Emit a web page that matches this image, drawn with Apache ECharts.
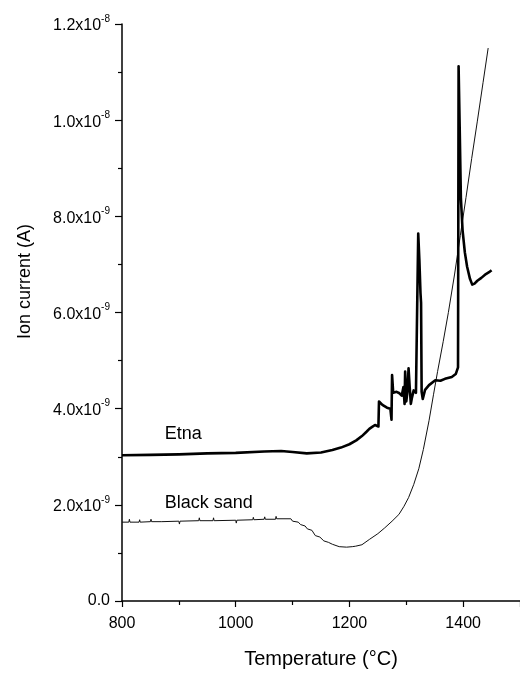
<!DOCTYPE html>
<html>
<head>
<meta charset="utf-8">
<script src="https://cdn.jsdelivr.net/npm/echarts@6/dist/echarts.min.js"></script>
<style>
  html, body { margin: 0; padding: 0; background: #fff; }
  #chart { width: 520px; height: 674px; }
</style>
</head>
<body>
<div id="chart"></div>
<script>
// Ion current vs temperature; currents stored in units of 1e-9 A.
const etnaTemp = [800, 850, 900, 950, 1000, 1050, 1080, 1100, 1125, 1150, 1170, 1185, 1200, 1212, 1222, 1230, 1235, 1240, 1245, 1251,
  1252, 1258, 1266, 1272, 1274, 1275, 1277, 1283, 1288, 1292, 1295, 1297, 1298, 1300, 1302, 1304, 1306, 1308, 1310, 1313, 1317, 1320,
  1321, 1323, 1325, 1326, 1327, 1329, 1333, 1340, 1351, 1360, 1368, 1380, 1387, 1391,
  1392, 1394, 1396, 1399, 1403, 1407, 1412, 1416, 1420, 1425, 1432, 1440, 1447, 1450];
const etnaCurrent = [3.03, 3.04, 3.05, 3.07, 3.08, 3.11, 3.12, 3.10, 3.07, 3.09, 3.14, 3.19, 3.26, 3.34, 3.43, 3.52, 3.58, 3.62, 3.66, 3.63,
  4.15, 4.08, 4.02, 4.00, 3.77, 4.70, 4.33, 4.35, 4.32, 4.27, 4.45, 4.10, 4.77, 4.15, 4.35, 4.84, 4.45, 4.10, 4.23, 4.38, 4.33, 4.35,
  7.64, 7.10, 6.40, 6.20, 4.35, 4.20, 4.39, 4.49, 4.59, 4.58, 4.62, 4.66, 4.72, 4.86,
  11.12, 9.80, 8.39, 7.71, 7.25, 6.95, 6.70, 6.58, 6.60, 6.66, 6.72, 6.80, 6.85, 6.88];

const sandTemp = [800, 812, 813, 814, 830, 831, 832, 850, 851, 852, 870, 900, 901, 902, 935, 936, 937, 960, 961, 962, 1000, 1001, 1002,
  1030, 1031, 1032, 1050, 1051, 1052, 1070, 1071, 1072, 1097,
  1100, 1110, 1114, 1122, 1126, 1134, 1140, 1148, 1155, 1163, 1170, 1182, 1195, 1205, 1211,
  1222, 1235, 1250, 1262, 1275, 1287, 1296, 1304, 1313, 1322, 1330, 1340, 1348, 1355, 1365, 1374, 1385, 1395, 1405, 1415, 1425, 1435, 1444];
const sandCurrent = [1.64, 1.64, 1.70, 1.64, 1.64, 1.69, 1.64, 1.65, 1.70, 1.65, 1.65, 1.66, 1.60, 1.66, 1.67, 1.73, 1.67, 1.67, 1.73, 1.67, 1.68, 1.62, 1.68,
  1.69, 1.74, 1.69, 1.70, 1.75, 1.70, 1.70, 1.76, 1.71, 1.71,
  1.66, 1.64, 1.59, 1.56, 1.50, 1.47, 1.36, 1.33, 1.25, 1.22, 1.18, 1.13, 1.12, 1.13, 1.14,
  1.17, 1.28, 1.40, 1.52, 1.66, 1.80, 1.97, 2.15, 2.42, 2.75, 3.15, 3.75, 4.30, 4.77, 5.40, 6.00, 6.80, 7.60, 8.39, 9.20, 9.98, 10.78, 11.50];

// Curve labels and where they sit
const labelText = ['Etna', 'Black sand'];
const labelTemp = [875, 875];
const labelCurrent = [3.47, 2.03];

const xTitle = 'Temperature (°C)';
const yTitle = 'Ion current (A)';

const zip = (xs, ys) => xs.map((x, i) => [x, ys[i]]);

function yTickLabel(v) {
  if (v === 0) return '0.0';
  const exp = v >= 10 ? -8 : -9;
  const mant = v >= 10 ? v / 10 : v;
  return '{m|' + mant.toFixed(1) + 'x10}{e|' + exp + '}';
}

const font = 'Liberation Sans, Arial, sans-serif';
const chart = echarts.init(document.getElementById('chart'), null, { renderer: 'canvas' });
chart.setOption({
  animation: false,
  backgroundColor: '#ffffff',
  grid: { left: 122, right: -2, top: 24, bottom: 65 },
  xAxis: {
    type: 'value', min: 800, max: 1500, interval: 200,
    name: xTitle, nameLocation: 'middle', nameGap: 48,
    nameTextStyle: { fontFamily: font, fontSize: 20, color: '#000' },
    axisLine: { show: true, onZero: false, lineStyle: { color: '#000', width: 1.5 } },
    axisTick: { show: true, inside: false, length: 6, lineStyle: { color: '#000', width: 1.2 } },
    minorTick: { show: true, splitNumber: 2, length: 4, lineStyle: { color: '#000', width: 1.2 } },
    axisLabel: { fontFamily: font, fontSize: 16, color: '#000', margin: 15, showMaxLabel: false,
      formatter: v => String(v) },
    splitLine: { show: false }
  },
  yAxis: {
    type: 'value', min: 0, max: 12, interval: 2,
    name: yTitle, nameLocation: 'middle', nameGap: 88, nameRotate: 90,
    nameTextStyle: { fontFamily: font, fontSize: 18, color: '#000', padding: [0, 0, 0, 62] },
    axisLine: { show: true, lineStyle: { color: '#000', width: 1.5 } },
    axisTick: { show: true, inside: false, length: 7, lineStyle: { color: '#000', width: 1.2 } },
    minorTick: { show: true, splitNumber: 2, length: 4, lineStyle: { color: '#000', width: 1.2 } },
    axisLabel: {
      fontFamily: font, fontSize: 16, color: '#000', margin: 12,
      formatter: yTickLabel,
      rich: {
        m: { fontFamily: font, fontSize: 16, color: '#000', lineHeight: 20, verticalAlign: 'bottom' },
        e: { fontFamily: font, fontSize: 10, color: '#000', lineHeight: 20, verticalAlign: 'top' }
      }
    },
    splitLine: { show: false }
  },
  series: [
    {
      name: 'Black sand', type: 'line', data: zip(sandTemp, sandCurrent),
      showSymbol: false, symbol: 'none',
      lineStyle: { color: '#111', width: 1 }, z: 2
    },
    {
      name: 'Etna', type: 'line', data: zip(etnaTemp, etnaCurrent),
      showSymbol: false, symbol: 'none',
      lineStyle: { color: '#000', width: 2.6, join: 'round' }, z: 3
    },
    {
      name: 'labels', type: 'scatter', symbolSize: 0, silent: true,
      data: labelText.map((t, i) => ({ name: t, value: [labelTemp[i], labelCurrent[i]] })),
      label: { show: true, position: 'right', distance: 0, formatter: p => p.name,
        fontFamily: font, fontSize: 18, color: '#000', opacity: 1 }
    }
  ]
});
</script>
</body>
</html>
